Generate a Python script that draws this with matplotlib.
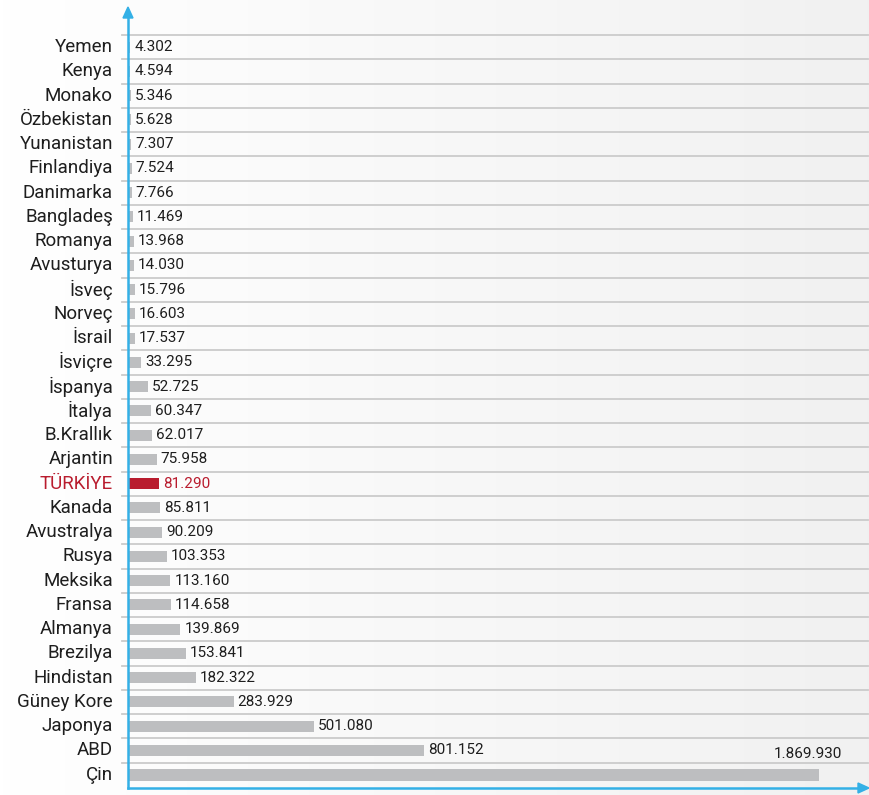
import numpy as np
import matplotlib.pyplot as plt

countries = ["Yemen", "Kenya", "Monako", "Özbekistan", "Yunanistan", "Finlandiya",
             "Danimarka", "Bangladeş", "Romanya", "Avusturya", "İsveç", "Norveç",
             "İsrail", "İsviçre", "İspanya", "İtalya", "B.Krallık", "Arjantin",
             "TÜRKİYE", "Kanada", "Avustralya", "Rusya", "Meksika", "Fransa",
             "Almanya", "Brezilya", "Hindistan", "Güney Kore", "Japonya", "ABD", "Çin"]
values = [4302, 4594, 5346, 5628, 7307, 7524, 7766, 11469, 13968, 14030, 15796,
          16603, 17537, 33295, 52725, 60347, 62017, 75958, 81290, 85811, 90209,
          103353, 113160, 114658, 139869, 153841, 182322, 283929, 501080, 801152,
          1869930]
highlight = "TÜRKİYE"

GRAY = "#bdbec0"
RED = "#b91c2e"
BLUE = "#33b0e6"
GRID = "#cbcbcb"
TEXT = "#1e1e1e"

plt.rcParams['font.family'] = ['Roboto', 'DejaVu Sans']

W, H = 870, 795
PX = 2710  # data units per pixel along x
fig = plt.figure(figsize=(W / 100, H / 100), dpi=100)

# background: white on the left fading to light gray on the right
bg = fig.add_axes([0, 0, 1, 1], zorder=-10)
grad = np.linspace(1.0, 0.945, 256)[None, :]
bg.imshow(np.dstack([grad, grad, grad]), aspect="auto", extent=[0, 1, 0, 1])
bg.axis("off")

ax = fig.add_axes([128 / W, 7 / H, 732 / W, (788 - 35) / H])
ax.set_facecolor("none")
n = len(countries)
ypos = np.arange(n)[::-1]  # Yemen on top
colors = [RED if c == highlight else GRAY for c in countries]
heights = [0.46] * (n - 1) + [0.5]
ax.barh(ypos, values, height=heights, color=colors, left=2000, zorder=2)

xmax = 732 * PX
ax.set_xlim(0, xmax)
ax.set_ylim(-0.55, n - 0.5)

# grid lines between rows
for k in range(n):
    ax.plot([-6 * PX, 740 * PX], [k + 0.5, k + 0.5], color=GRID, lw=1.3,
            clip_on=False, zorder=1)

for y, c, v in zip(ypos, countries, values):
    txt = f"{v:,}".replace(",", ".")
    col = RED if c == highlight else TEXT
    if v == max(values):
        ax.text(v + 2000 + 23 * PX, y + 0.85, txt, ha="right", va="center",
                fontsize=11, color=col)
    else:
        ax.text(v + 2000 + 4 * PX, y, txt, ha="left", va="center",
                fontsize=11, color=col)
    ax.text(-15 * PX, y, c, ha="right", va="center", fontsize=13.5,
            color=col, clip_on=False)

ax.set_xticks([])
ax.set_yticks([])
for s in ax.spines.values():
    s.set_visible(False)

# blue arrow axes
x0, y0 = 128 / W, 1 - 788 / H
fig.add_artist(plt.Line2D([x0, x0], [y0, 1 - 14 / H], color=BLUE, lw=1.8))
fig.add_artist(plt.Line2D([x0, 860 / W], [y0, y0], color=BLUE, lw=1.8))
fig.add_artist(plt.Polygon([[x0 - 5 / W, 1 - 18 / H], [x0 + 5 / W, 1 - 18 / H],
                            [x0, 1 - 7 / H]], closed=True, color=BLUE))
fig.add_artist(plt.Polygon([[858 / W, y0 + 5 / H], [858 / W, y0 - 5 / H],
                            [869 / W, y0]], closed=True, color=BLUE))

fig.savefig("out.png", dpi=100)
